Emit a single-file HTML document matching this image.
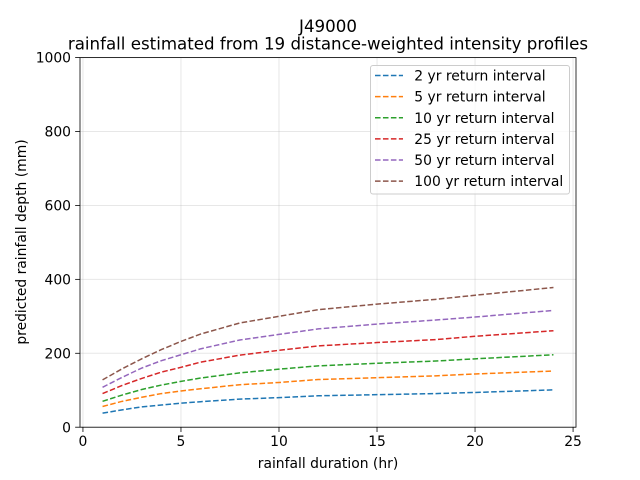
<!DOCTYPE html>
<html><head><meta charset="utf-8"><style>
html,body{margin:0;padding:0;background:#fff;}
svg{display:block;font-family:"DejaVu Sans","Liberation Sans",sans-serif;}
</style></head><body>
<svg width="640" height="480" viewBox="0 0 640 480" xmlns="http://www.w3.org/2000/svg">
<rect width="640" height="480" fill="#fff"/>
<!-- grid -->
<g stroke="#b0b0b0" stroke-opacity="0.3" stroke-width="1">
<line x1="82.94" y1="57.6" x2="82.94" y2="427.2"/>
<line x1="180.97" y1="57.6" x2="180.97" y2="427.2"/>
<line x1="278.99" y1="57.6" x2="278.99" y2="427.2"/>
<line x1="377.02" y1="57.6" x2="377.02" y2="427.2"/>
<line x1="475.04" y1="57.6" x2="475.04" y2="427.2"/>
<line x1="573.07" y1="57.6" x2="573.07" y2="427.2"/>
<line x1="80" y1="427.2" x2="576" y2="427.2"/>
<line x1="80" y1="353.28" x2="576" y2="353.28"/>
<line x1="80" y1="279.36" x2="576" y2="279.36"/>
<line x1="80" y1="205.44" x2="576" y2="205.44"/>
<line x1="80" y1="131.52" x2="576" y2="131.52"/>
<line x1="80" y1="57.6" x2="576" y2="57.6"/>
</g>
<!-- series -->
<g fill="none" stroke-width="1.5" stroke-dasharray="5.55 2.4">
<polyline stroke="#1f77b4" points="102.55,413.16 122.15,409.83 141.76,406.87 161.36,405.02 180.97,403.18 200.57,401.70 239.78,399.11 278.99,397.63 318.20,395.78 377.02,394.68 435.83,393.57 475.04,392.46 553.46,389.87"/>
<polyline stroke="#ff7f0e" points="102.55,406.50 122.15,401.33 141.76,397.26 161.36,393.57 180.97,390.98 200.57,388.76 239.78,384.70 278.99,382.48 318.20,379.52 377.02,377.67 435.83,375.83 475.04,373.98 553.46,371.02"/>
<polyline stroke="#2ca02c" points="102.55,401.33 122.15,395.04 141.76,389.50 161.36,385.07 180.97,381.37 200.57,378.04 239.78,372.87 278.99,369.17 318.20,365.85 377.02,363.26 435.83,361.04 475.04,358.82 553.46,354.76"/>
<polyline stroke="#d62728" points="102.55,393.57 122.15,385.44 141.76,378.41 161.36,372.13 180.97,367.32 200.57,362.15 239.78,355.13 278.99,350.32 318.20,345.89 377.02,342.56 435.83,339.60 475.04,336.28 553.46,330.73"/>
<polyline stroke="#9467bd" points="102.55,387.28 122.15,377.30 141.76,368.06 161.36,360.67 180.97,354.76 200.57,348.84 239.78,339.97 278.99,334.43 318.20,328.89 377.02,324.08 435.83,320.02 475.04,317.06 553.46,310.41"/>
<polyline stroke="#8c564b" points="102.55,379.89 122.15,368.80 141.76,358.82 161.36,349.58 180.97,341.45 200.57,334.06 239.78,322.97 278.99,316.32 318.20,309.67 377.02,304.12 435.83,299.32 475.04,295.25 553.46,287.49"/>
</g>
<!-- axes frame -->
<rect x="80" y="57.6" width="496" height="369.6" fill="none" stroke="#000" stroke-width="0.8"/>
<!-- ticks -->
<g stroke="#000" stroke-width="0.8">
<line x1="82.94" y1="427.2" x2="82.94" y2="432.06"/>
<line x1="180.97" y1="427.2" x2="180.97" y2="432.06"/>
<line x1="278.99" y1="427.2" x2="278.99" y2="432.06"/>
<line x1="377.02" y1="427.2" x2="377.02" y2="432.06"/>
<line x1="475.04" y1="427.2" x2="475.04" y2="432.06"/>
<line x1="573.07" y1="427.2" x2="573.07" y2="432.06"/>
<line x1="80" y1="427.2" x2="75.14" y2="427.2"/>
<line x1="80" y1="353.28" x2="75.14" y2="353.28"/>
<line x1="80" y1="279.36" x2="75.14" y2="279.36"/>
<line x1="80" y1="205.44" x2="75.14" y2="205.44"/>
<line x1="80" y1="131.52" x2="75.14" y2="131.52"/>
<line x1="80" y1="57.6" x2="75.14" y2="57.6"/>
</g>
<g font-size="13.89" fill="#000" text-anchor="middle">
<text x="82.94" y="446">0</text>
<text x="180.97" y="446">5</text>
<text x="278.99" y="446">10</text>
<text x="377.02" y="446">15</text>
<text x="475.04" y="446">20</text>
<text x="573.07" y="446">25</text>
</g>
<g font-size="13.89" fill="#000" text-anchor="end">
<text x="71" y="432.3">0</text>
<text x="71" y="358.4">200</text>
<text x="71" y="284.5">400</text>
<text x="71" y="210.5">600</text>
<text x="71" y="136.6">800</text>
<text x="71" y="62.7">1000</text>
</g>
<text x="328" y="468" font-size="13.89" text-anchor="middle">rainfall duration (hr)</text>
<text transform="translate(26,242) rotate(-90)" font-size="13.89" text-anchor="middle">predicted rainfall depth (mm)</text>
<text x="328" y="32" font-size="16.67" text-anchor="middle">J49000</text>
<text x="328" y="49.5" font-size="16.67" text-anchor="middle">rainfall estimated from 19 distance-weighted intensity profiles</text>
<!-- legend -->
<rect x="370.5" y="65.5" width="199" height="128.5" rx="2.5" fill="#fff" fill-opacity="0.8" stroke="#cccccc" stroke-width="1"/>
<g fill="none" stroke-width="1.5" stroke-dasharray="5.55 2.4">
<line x1="375" y1="75.5" x2="403" y2="75.5" stroke="#1f77b4"/>
<line x1="375" y1="96.6" x2="403" y2="96.6" stroke="#ff7f0e"/>
<line x1="375" y1="117.8" x2="403" y2="117.8" stroke="#2ca02c"/>
<line x1="375" y1="138.9" x2="403" y2="138.9" stroke="#d62728"/>
<line x1="375" y1="160" x2="403" y2="160" stroke="#9467bd"/>
<line x1="375" y1="181.1" x2="403" y2="181.1" stroke="#8c564b"/>
</g>
<g font-size="13.89" fill="#000">
<text x="414.3" y="80.5">2 yr return interval</text>
<text x="414.3" y="101.6">5 yr return interval</text>
<text x="414.3" y="122.8">10 yr return interval</text>
<text x="414.3" y="143.9">25 yr return interval</text>
<text x="414.3" y="165">50 yr return interval</text>
<text x="414.3" y="186.1">100 yr return interval</text>
</g>
</svg>
</body></html>
